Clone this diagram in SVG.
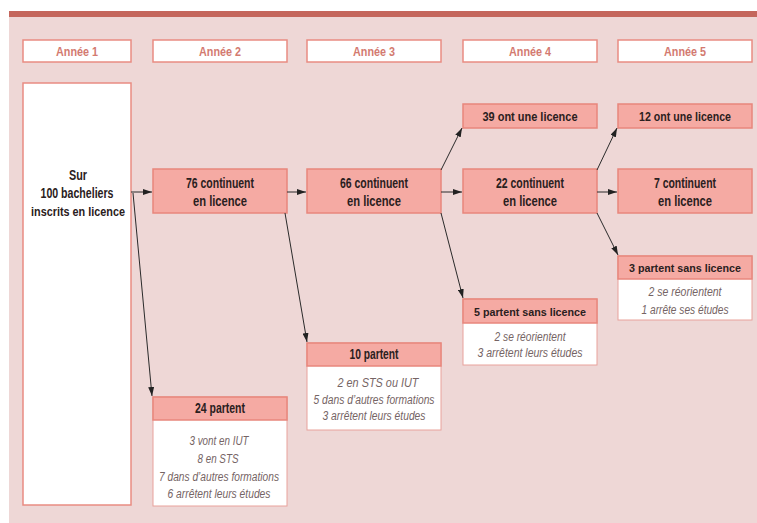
<svg xmlns="http://www.w3.org/2000/svg" width="757" height="523" viewBox="0 0 757 523">
<defs>
<marker id="ah" markerWidth="9" markerHeight="6" refX="9" refY="3" orient="auto" markerUnits="userSpaceOnUse">
<path d="M0,0 L9,3 L0,6 Z" fill="#222"/>
</marker>
<style>
text{font-family:"Liberation Sans",Arial,sans-serif;text-anchor:middle}
.yr{fill:#fff;stroke:#e98c82;stroke-width:1.5}
.yt{font-weight:bold;font-size:13px;fill:#d37a70}
.bx{fill:#f5aaa3;stroke:#e8867c;stroke-width:1.5}
.wb{fill:#fff;stroke:#e8a29b;stroke-width:1}
.bt{font-weight:bold;font-size:14px;fill:#2a2020}
.sm{font-size:12.5px}
.xs{font-size:11.5px}
.it{font-style:italic;font-size:12.5px;fill:#756464}
.cn{stroke:#2a2a2a;stroke-width:1;fill:none;marker-end:url(#ah)}
</style>
</defs>
<rect x="0" y="0" width="757" height="523" fill="#fff"/>
<rect x="9" y="11" width="748" height="512" fill="#eed7d6"/>
<rect x="9" y="11" width="748" height="6" fill="#c4665c"/>

<g id="annee1"><rect class="yr" x="23" y="40" width="108" height="22"/><text class="yt" x="77" y="56" textLength="42" lengthAdjust="spacingAndGlyphs">Année 1</text></g>
<g id="annee2"><rect class="yr" x="153" y="40" width="134" height="22"/><text class="yt" x="220" y="56" textLength="42" lengthAdjust="spacingAndGlyphs">Année 2</text></g>
<g id="annee3"><rect class="yr" x="307" y="40" width="134" height="22"/><text class="yt" x="374" y="56" textLength="42" lengthAdjust="spacingAndGlyphs">Année 3</text></g>
<g id="annee4"><rect class="yr" x="463" y="40" width="134" height="22"/><text class="yt" x="530" y="56" textLength="42" lengthAdjust="spacingAndGlyphs">Année 4</text></g>
<g id="annee5"><rect class="yr" x="618" y="40" width="134" height="22"/><text class="yt" x="685" y="56" textLength="42" lengthAdjust="spacingAndGlyphs">Année 5</text></g>

<g id="n100"><rect class="yr" x="23" y="83" width="108" height="422"/>
<text class="bt" x="78" y="180" textLength="18" lengthAdjust="spacingAndGlyphs">Sur</text>
<text class="bt" x="77" y="198" textLength="73" lengthAdjust="spacingAndGlyphs">100 bacheliers</text>
<text class="bt sm" x="78" y="216" textLength="94" lengthAdjust="spacingAndGlyphs">inscrits en licence</text></g>

<g id="n76"><rect class="bx" x="153" y="169" width="134" height="44"/>
<text class="bt" x="220" y="188" textLength="68" lengthAdjust="spacingAndGlyphs">76 continuent</text><text class="bt" x="220" y="206" textLength="54" lengthAdjust="spacingAndGlyphs">en licence</text></g>
<g id="n66"><rect class="bx" x="307" y="169" width="134" height="44"/>
<text class="bt" x="374" y="188" textLength="68" lengthAdjust="spacingAndGlyphs">66 continuent</text><text class="bt" x="374" y="206" textLength="54" lengthAdjust="spacingAndGlyphs">en licence</text></g>
<g id="n22"><rect class="bx" x="463" y="169" width="134" height="44"/>
<text class="bt" x="530" y="188" textLength="68" lengthAdjust="spacingAndGlyphs">22 continuent</text><text class="bt" x="530" y="206" textLength="54" lengthAdjust="spacingAndGlyphs">en licence</text></g>
<g id="n7"><rect class="bx" x="618" y="169" width="134" height="44"/>
<text class="bt" x="685" y="188" textLength="62" lengthAdjust="spacingAndGlyphs">7 continuent</text><text class="bt" x="685" y="206" textLength="54" lengthAdjust="spacingAndGlyphs">en licence</text></g>

<g id="n39"><rect class="bx" x="463" y="104" width="134" height="24"/>
<text class="bt sm" x="530" y="121" textLength="95" lengthAdjust="spacingAndGlyphs">39 ont une  licence</text></g>
<g id="n12"><rect class="bx" x="618" y="104" width="134" height="24"/>
<text class="bt sm" x="685" y="121" textLength="92" lengthAdjust="spacingAndGlyphs">12 ont une licence</text></g>

<g id="n24"><rect class="wb" x="153" y="397" width="134" height="109"/>
<rect class="bx" x="153" y="397" width="134" height="23"/>
<text class="bt" x="220" y="413" textLength="50" lengthAdjust="spacingAndGlyphs">24 partent</text>
<text class="it" x="219" y="445" textLength="59" lengthAdjust="spacingAndGlyphs">3 vont en IUT</text>
<text class="it" x="218" y="463" textLength="41" lengthAdjust="spacingAndGlyphs">8 en STS</text>
<text class="it" x="219" y="481" textLength="120" lengthAdjust="spacingAndGlyphs">7 dans d’autres formations</text>
<text class="it" x="219" y="498" textLength="103" lengthAdjust="spacingAndGlyphs">6 arrêtent leurs études</text></g>

<g id="n10"><rect class="wb" x="307" y="343" width="134" height="87"/>
<rect class="bx" x="307" y="343" width="134" height="23"/>
<text class="bt" x="374" y="359" textLength="49" lengthAdjust="spacingAndGlyphs">10 partent</text>
<text class="it" x="378" y="387" textLength="81" lengthAdjust="spacingAndGlyphs">2 en STS ou IUT</text>
<text class="it" x="374" y="404" textLength="121" lengthAdjust="spacingAndGlyphs">5 dans d’autres formations</text>
<text class="it" x="374" y="420" textLength="103" lengthAdjust="spacingAndGlyphs">3 arrêtent leurs études</text></g>

<g id="n5"><rect class="wb" x="463" y="299" width="134" height="66"/>
<rect class="bx" x="463" y="299" width="134" height="24"/>
<text class="bt xs" x="530" y="316" textLength="112" lengthAdjust="spacingAndGlyphs">5 partent sans licence</text>
<text class="it" x="530" y="341" textLength="71" lengthAdjust="spacingAndGlyphs">2 se réorientent</text>
<text class="it" x="530" y="357" textLength="105" lengthAdjust="spacingAndGlyphs">3 arrêtent leurs études</text></g>

<g id="n3"><rect class="wb" x="618" y="256" width="134" height="64"/>
<rect class="bx" x="618" y="256" width="134" height="23"/>
<text class="bt xs" x="685" y="272" textLength="112" lengthAdjust="spacingAndGlyphs">3 partent sans licence</text>
<text class="it" x="685" y="296" textLength="73" lengthAdjust="spacingAndGlyphs">2 se réorientent</text>
<text class="it" x="685" y="314" textLength="87" lengthAdjust="spacingAndGlyphs">1 arrête ses études</text></g>

<g id="connectors">
<path class="cn" d="M131,192 H152"/>
<path class="cn" d="M133,193 L152,396"/>
<path class="cn" d="M287,192 H306"/>
<path class="cn" d="M285,213 L307,342"/>
<path class="cn" d="M441,192 H462"/>
<path class="cn" d="M441,170 L462,128"/>
<path class="cn" d="M441,213 L463,298"/>
<path class="cn" d="M597,192 H617"/>
<path class="cn" d="M597,170 L617,128"/>
<path class="cn" d="M597,213 L618,255"/>
</g>
</svg>
